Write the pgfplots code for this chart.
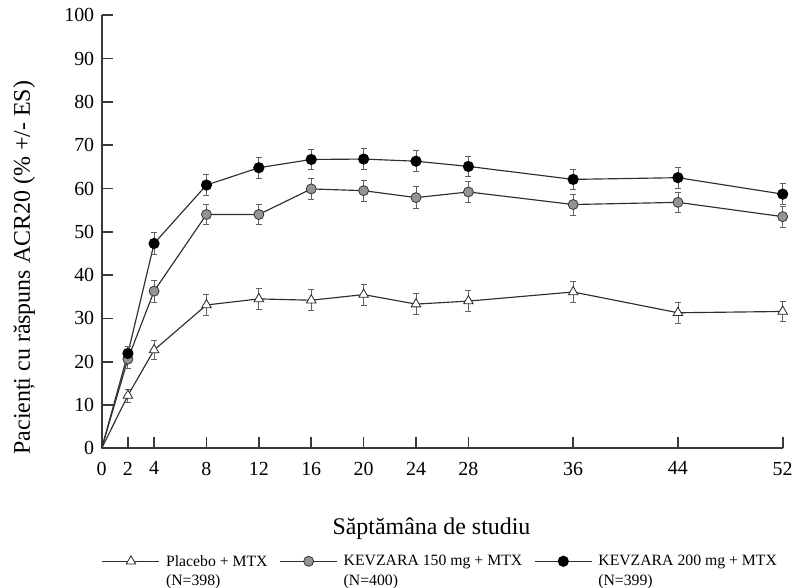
\documentclass[border=0pt]{standalone}
\usepackage{fontspec}
\setmainfont{Liberation Serif}
\usepackage{pgfplots}
\pgfplotsset{compat=1.18}
\usepackage{pgfplotstable}

% week, mean, error (the start at week 0 is 0 for every arm)
\pgfplotstableread{
x   y     e
2   12.2  1.5
4   22.7  2.2
8   33.1  2.4
12  34.5  2.4
16  34.2  2.4
20  35.5  2.4
24  33.3  2.4
28  34.0  2.4
36  36.1  2.4
44  31.3  2.4
52  31.6  2.4
}\placebo
\pgfplotstableread{
x   y     e
2   20.6  2.1
4   36.3  2.5
8   54.0  2.4
12  54.0  2.4
16  59.9  2.4
20  59.5  2.4
24  57.9  2.5
28  59.2  2.4
36  56.3  2.4
44  56.8  2.4
52  53.5  2.4
}\kevA
\pgfplotstableread{
x   y     e
2   21.9  1.6
4   47.3  2.5
8   60.8  2.4
12  64.8  2.4
16  66.7  2.4
20  66.8  2.4
24  66.3  2.4
28  65.1  2.4
36  62.1  2.4
44  62.5  2.4
52  58.7  2.4
}\kevB

\begin{document}
\begin{tikzpicture}
\begin{axis}[
    scale only axis,
    width=681bp, height=433bp,
    xmin=0, xmax=52, ymin=0, ymax=100,
    axis lines*=left,
    tick align=inside,
    major tick length=11bp,
    axis line style={line width=1.8bp, black!78},
    tick style={line width=1.6bp, black!78},
    xtick={0,2,4,8,12,16,20,24,28,36,44,52},
    ytick={0,10,...,100},
    ticklabel style={font=\fontsize{20}{24}\selectfont},
    xticklabel style={yshift=-10bp},
    yticklabel style={xshift=-4bp},
    /pgf/number format/assume math mode=true,
    xlabel={Săptămâna de studiu},
    ylabel={Pacienți cu răspuns ACR20 (\% +/- ES)},
    label style={font=\fontsize{24}{28}\selectfont},
    xlabel style={at={(axis description cs:0.4843,-0.200)}, anchor=base},
    ylabel style={at={(axis description cs:-0.114,0.417)}, anchor=center},
    clip=false,
    legend style={at={(axis description cs:0,-0.2416)}, anchor=north west,
        draw=none, fill=none, legend columns=3, inner sep=0pt,
        font=\fontsize{15.8}{20}\selectfont,
        cells={align=left, anchor=west},
        /tikz/every odd column/.append style={column sep=4bp},
        /tikz/every even column/.append style={column sep=10bp}},
    legend image code/.code={\draw[mark repeat=2,mark phase=2,yshift=10bp,#1]
        plot coordinates {(0bp,0bp)(28.5bp,0bp)(57bp,0bp)};},
    every axis plot/.append style={line width=1.15bp, black!82},
    error bars/y dir=both, error bars/y explicit,
    error bars/error bar style={line width=0.8bp, black!62},
    error bars/error mark options={rotate=90, mark size=3bp, line width=0.8bp, black!62},
]
\coordinate (O) at (rel axis cs:0,0);
% lines from the common start at week 0
\addplot[forget plot, no marks] coordinates {(0,0) (2,12.2)};
\addplot[forget plot, no marks] coordinates {(0,0) (2,20.6)};
\addplot[forget plot, no marks] coordinates {(0,0) (2,21.9)};

\addplot[mark=triangle*, mark size=5.5bp, mark options={fill=white, draw=black!85, line width=0.8bp}]
    table[x=x, y=y, y error=e] {\placebo};
\addlegendentry{Placebo + MTX\\(N=398)}
\addplot[mark=*, mark size=5bp, mark options={fill=black!42, draw=black!80, line width=0.8bp}]
    table[x=x, y=y, y error=e] {\kevA};
\addlegendentry{KEVZARA 150 mg + MTX\\(N=400)}
\addplot[mark=*, mark size=5bp, mark options={fill=black, draw=black}]
    table[x=x, y=y, y error=e] {\kevB};
\addlegendentry{KEVZARA 200 mg + MTX\\(N=399)}
\end{axis}
\pgfresetboundingbox
\path[use as bounding box] (O) ++(-101.7bp,-139.7bp) rectangle ++(795bp,588bp);
\end{tikzpicture}
\end{document}
